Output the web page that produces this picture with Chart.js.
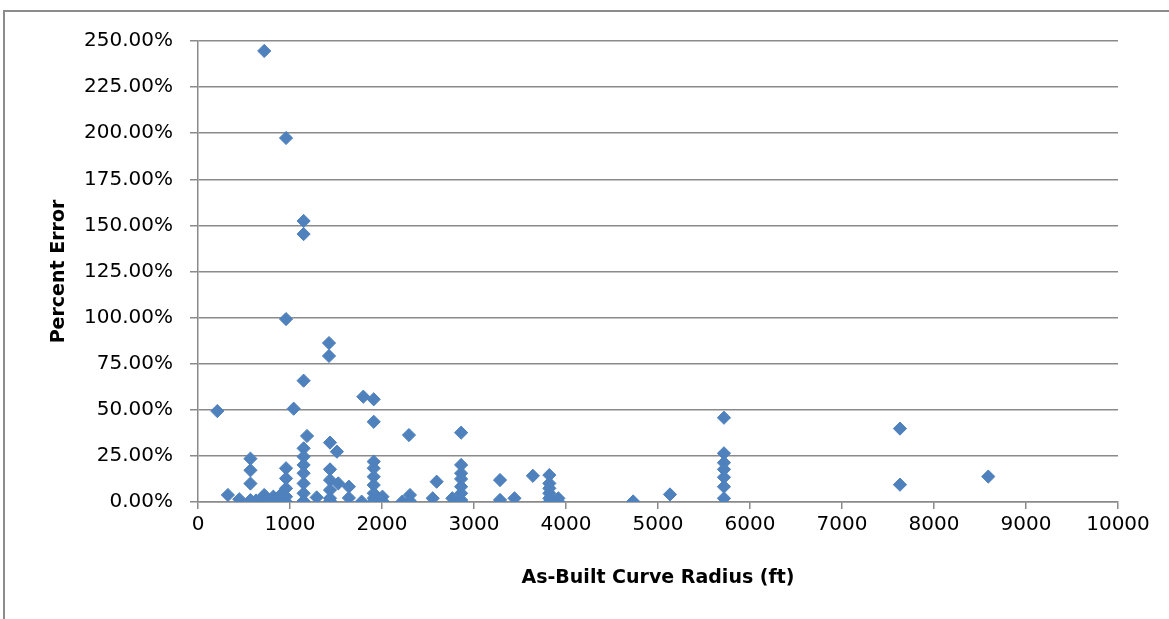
<!DOCTYPE html>
<html>
<head>
<meta charset="utf-8">
<script src="https://cdn.jsdelivr.net/npm/chart.js@4.4.1/dist/chart.umd.min.js"></script>
<style>
  html, body { margin: 0; padding: 0; background: #fff; }
  #wrap { position: relative; width: 1169px; height: 619px; overflow: hidden; }
  canvas { position: absolute; left: 0; top: 0; }
</style>
</head>
<body>
<div id="wrap"><canvas id="c" width="1169" height="619"></canvas></div>
<script>
// As-built curve radius (ft)
const radius = [
  210, 325, 449, 570, 570, 570, 570, 630, 692, 720, 720, 764, 819, 870, 891, 891,
  957, 957, 957, 957, 957, 957, 957, 1040,
  1148, 1148, 1148, 1148, 1148, 1148, 1148, 1148, 1148, 1148, 1185, 1290,
  1424, 1424, 1435, 1435, 1435, 1435, 1435, 1435, 1510, 1525, 1640, 1640, 1779, 1797,
  1910, 1910, 1910, 1910, 1910, 1910, 1910, 1910, 1910, 2005, 2010, 2220, 2293, 2304, 2304,
  2551, 2594, 2765, 2860, 2860, 2860, 2860, 2860, 2860, 2860, 2860,
  3283, 3283, 3440, 3640, 3819, 3819, 3819, 3819, 3819, 3819, 3917, 3917,
  4730, 5130, 5717, 5717, 5717, 5717, 5717, 5717, 5717, 7630, 7630, 8590
];
// Percent error (%)
const percentError = [
  49.3, 3.8, 1.5, 23.5, 17.2, 10.0, 1.0, 0.8, 2.0, 244.6, 3.8, 0.2, 2.9, 0.5, 0.2, 3.5,
  197.4, 99.2, 18.3, 12.8, 7.4, 2.9, 0.0, 50.6,
  152.4, 145.3, 65.8, 29.1, 24.6, 20.1, 15.6, 10.1, 4.7, 0.5, 35.8, 2.5,
  86.2, 79.2, 32.2, 17.7, 11.9, 6.5, 2.0, 0.5, 27.3, 10.1, 8.3, 2.2, 0.2, 57.1,
  55.7, 43.5, 21.9, 18.3, 13.7, 9.2, 4.7, 2.0, 0.2, 2.9, 0.2, 0.2, 36.3, 3.8, 0.5,
  2.0, 11.0, 2.0, 37.6, 20.1, 15.6, 12.5, 8.3, 4.7, 1.1, 0.0,
  11.9, 1.1, 2.0, 14.2, 14.6, 10.1, 7.4, 4.7, 2.0, 0.0, 2.0, 0.2,
  0.3, 4.1, 45.7, 26.4, 21.3, 17.7, 13.4, 8.3, 2.0, 39.8, 9.4, 13.8
];
const xTicks = [0, 1000, 2000, 3000, 4000, 5000, 6000, 7000, 8000, 9000, 10000];
const yTicks = [0, 25, 50, 75, 100, 125, 150, 175, 200, 225, 250];

const points = radius.map((r, i) => ({ x: r, y: percentError[i] }));

const frame = {
  id: 'frame',
  beforeDraw(chart) {
    const ctx = chart.ctx;
    ctx.save();
    ctx.fillStyle = '#ffffff';
    ctx.fillRect(0, 0, chart.width, chart.height);
    ctx.strokeStyle = '#8c8c8c';
    ctx.lineWidth = 2;
    ctx.strokeRect(4, 11, 1400, 1000);
    ctx.restore();
  }
};

const grey = '#8a8a8a';
new Chart(document.getElementById('c'), {
  type: 'scatter',
  data: {
    datasets: [{
      data: points,
      pointStyle: 'rectRot',
      pointRadius: 6.6,
      pointHoverRadius: 6.6,
      backgroundColor: '#4F81BD',
      borderColor: '#4F81BD',
      borderWidth: 1
    }]
  },
  options: {
    responsive: false,
    animation: false,
    events: [],
    layout: { padding: { left: 0, right: 51, top: 41, bottom: 30 } },
    plugins: { legend: { display: false }, tooltip: { enabled: false } },
    scales: {
      x: {
        type: 'linear',
        min: 0, max: 10000,
        afterBuildTicks: s => { s.ticks = xTicks.map(v => ({ value: v })); },
        afterFit: s => { s.height = 87; },
        ticks: {
          color: '#000',
          font: { family: 'DejaVu Sans', size: 20 },
          padding: 4,
          maxRotation: 0,
          callback: v => String(v)
        },
        grid: { drawOnChartArea: false, drawTicks: true, tickLength: 7, color: grey, lineWidth: 1.5 },
        border: { display: true, color: grey, width: 1.5 },
        title: {
          display: true,
          text: 'As-Built Curve Radius (ft)',
          color: '#000',
          font: { family: 'DejaVu Sans', size: 19, weight: 'bold', lineHeight: 1.2 },
          padding: { top: 0, bottom: 0 }
        }
      },
      y: {
        type: 'linear',
        min: 0, max: 250,
        afterBuildTicks: s => { s.ticks = yTicks.map(v => ({ value: v })); },
        afterFit: s => { s.width = 198; },
        ticks: {
          color: '#000',
          font: { family: 'DejaVu Sans', size: 20 },
          padding: 17,
          callback: v => v.toFixed(2) + '%'
        },
        grid: { drawOnChartArea: true, drawTicks: true, tickLength: 8, color: grey, lineWidth: 1.5 },
        border: { display: true, color: grey, width: 1.5 },
        title: {
          display: true,
          text: 'Percent Error',
          color: '#000',
          font: { family: 'DejaVu Sans', size: 19, weight: 'bold', lineHeight: 1.2 },
          padding: { top: 48, bottom: 0 }
        }
      }
    }
  },
  plugins: [frame]
});
</script>
</body>
</html>
